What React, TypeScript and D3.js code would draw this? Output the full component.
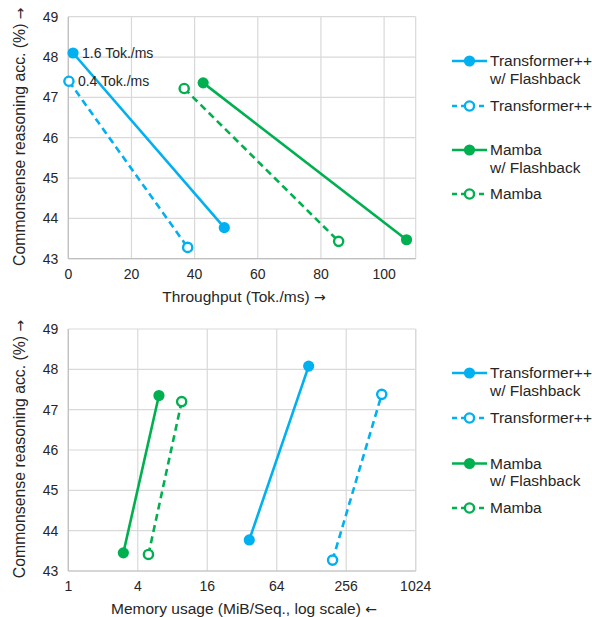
import React from "react";
import * as d3 from "d3";

const BLUE = "#00b0f0";
const GREEN = "#00b050";

const yTicks = [43, 44, 45, 46, 47, 48, 49];
const thrTicks = [0, 20, 40, 60, 80, 100];
const memTicks = [1, 4, 16, 64, 256, 1024];

// Throughput (Tok./ms) vs accuracy
const tfFbThroughput = [1.5, 49.4];
const tfFbAccTop = [48.1, 43.77];
const tfThroughput = [0.2, 37.8];
const tfAccTop = [47.4, 43.28];
const mbFbThroughput = [42.7, 107.1];
const mbFbAccTop = [47.36, 43.47];
const mbThroughput = [36.7, 85.6];
const mbAccTop = [47.22, 43.43];

// Memory (MiB/Seq.) vs accuracy
const tfFbMemory = [37, 121];
const tfFbAccBot = [43.77, 48.08];
const tfMemory = [195, 520];
const tfAccBot = [43.27, 47.38];
const mbFbMemory = [3.0, 6.1];
const mbFbAccBot = [43.45, 47.35];
const mbMemory = [4.95, 9.6];
const mbAccBot = [43.41, 47.2];

const annotations = ["1.6 Tok./ms", "0.4 Tok./ms"];

const legendItems = [
  { lines: ["Transformer++", "w/ Flashback"], color: BLUE, dashed: false },
  { lines: ["Transformer++"], color: BLUE, dashed: true },
  { lines: ["Mamba", "w/ Flashback"], color: GREEN, dashed: false },
  { lines: ["Mamba"], color: GREEN, dashed: true },
];

const FONT = "'Liberation Sans', Arial, sans-serif";
const ARROW_FONT = "'DejaVu Sans', sans-serif";
const TXT = "#262626";

type Series = { xs: number[]; ys: number[]; color: string; dashed: boolean };

function Marker({ x, y, color, open }: { x: number; y: number; color: string; open: boolean }) {
  return open ? (
    <circle cx={x} cy={y} r={4.6} fill="#fff" stroke={color} strokeWidth={2.4} />
  ) : (
    <circle cx={x} cy={y} r={5.6} fill={color} />
  );
}

function Panel({
  top,
  xScale,
  xTicks,
  xTitle,
  xArrow,
  series,
  annot,
  legendYs,
}: {
  top: number;
  xScale: any;
  xTicks: number[];
  xTitle: string;
  xArrow: string;
  series: Series[];
  annot?: boolean;
  legendYs: number[];
}) {
  const y = d3.scaleLinear().domain([43, 49]).range([top + 242, top]);
  const [x0, x1] = xScale.range();
  const line = d3.line<[number, number]>().x((d) => xScale(d[0])).y((d) => y(d[1]));
  return (
    <g fontFamily={FONT}>
      {yTicks.map((t) => (
        <line key={"gy" + t} x1={x0} x2={x1} y1={y(t)} y2={y(t)} stroke="#d9d9d9" strokeWidth={1.2} />
      ))}
      {xTicks.map((t) => (
        <line key={"gx" + t} x1={xScale(t)} x2={xScale(t)} y1={y(43)} y2={y(49)} stroke="#d9d9d9" strokeWidth={1.2} />
      ))}
      <line x1={x1} x2={x1} y1={y(43)} y2={y(49)} stroke="#d9d9d9" strokeWidth={1.2} />
      <line x1={x0} x2={x0} y1={y(43)} y2={y(49)} stroke="#bfbfbf" strokeWidth={1.2} />
      <line x1={x0} x2={x1} y1={y(43)} y2={y(43)} stroke="#bfbfbf" strokeWidth={1.2} />
      {yTicks.map((t) => (
        <text key={"ty" + t} x={x0 - 10} y={y(t)} dy="0.35em" textAnchor="end" fontSize={14} fill={TXT}>
          {t}
        </text>
      ))}
      {xTicks.map((t) => (
        <text key={"tx" + t} x={xScale(t)} y={y(43) + 20} textAnchor="middle" fontSize={14} fill={TXT}>
          {t}
        </text>
      ))}
      <text x={(x0 + x1) / 2 + 2} y={y(43) + 43} textAnchor="middle" fontSize={15.5} fill={TXT}>
        {xTitle}
        <tspan fontFamily={ARROW_FONT} fontSize={14}>{" " + xArrow}</tspan>
      </text>
      <text
        transform={`translate(24.5,${(y(43) + y(49)) / 2 - 1}) rotate(-90)`}
        textAnchor="middle"
        fontSize={15.8}
        fill={TXT}
      >
        {"Commonsense reasoning acc. (%) "}
        <tspan fontFamily={ARROW_FONT} fontSize={14}>→</tspan>
      </text>
      {series.map((s, i) => (
        <path
          key={"l" + i}
          d={line(s.xs.map((v, j) => [v, s.ys[j]] as [number, number])) || ""}
          fill="none"
          stroke={s.color}
          strokeWidth={2.6}
          strokeDasharray={s.dashed ? "7,4.5" : undefined}
        />
      ))}
      {series.map((s, i) =>
        s.xs.map((v, j) => (
          <Marker key={"m" + i + "-" + j} x={xScale(v)} y={y(s.ys[j])} color={s.color} open={s.dashed} />
        ))
      )}
      {annot && (
        <g fontSize={14} fill={TXT}>
          <text x={xScale(series[0].xs[0]) + 9} y={y(series[0].ys[0])} dy="0.35em">
            {annotations[0]}
          </text>
          <text x={xScale(series[1].xs[0]) + 9} y={y(series[1].ys[0])} dy="0.35em">
            {annotations[1]}
          </text>
        </g>
      )}
      {legendItems.map((it, i) => {
        const ly = legendYs[i];
        return (
          <g key={"lg" + i}>
            <line
              x1={452}
              x2={487}
              y1={ly}
              y2={ly}
              stroke={it.color}
              strokeWidth={2.6}
              strokeDasharray={it.dashed ? "5,4" : undefined}
            />
            <Marker x={469.5} y={ly} color={it.color} open={it.dashed} />
            {it.lines.map((ln, k) => (
              <text key={k} x={490} y={ly + k * 17.5} dy="0.35em" fontSize={15.5} fill={TXT}>
                {ln}
              </text>
            ))}
          </g>
        );
      })}
    </g>
  );
}

export default function App() {
  const xThr = d3.scaleLinear().domain([0, 110]).range([68.3, 415.7]);
  const xMem = d3.scaleLog().base(2).domain([1, 1024]).range([68.3, 415.7]);
  const topSeries: Series[] = [
    { xs: tfFbThroughput, ys: tfFbAccTop, color: BLUE, dashed: false },
    { xs: tfThroughput, ys: tfAccTop, color: BLUE, dashed: true },
    { xs: mbFbThroughput, ys: mbFbAccTop, color: GREEN, dashed: false },
    { xs: mbThroughput, ys: mbAccTop, color: GREEN, dashed: true },
  ];
  const botSeries: Series[] = [
    { xs: tfFbMemory, ys: tfFbAccBot, color: BLUE, dashed: false },
    { xs: tfMemory, ys: tfAccBot, color: BLUE, dashed: true },
    { xs: mbFbMemory, ys: mbFbAccBot, color: GREEN, dashed: false },
    { xs: mbMemory, ys: mbAccBot, color: GREEN, dashed: true },
  ];
  return (
    <svg
      width={592}
      height={617}
      style={{ position: "absolute", left: 0, top: 0, background: "#fff" }}
    >
      <rect width={592} height={617} fill="#fff" />
      <Panel
        top={16.7}
        xScale={xThr}
        xTicks={thrTicks}
        xTitle="Throughput (Tok./ms)"
        xArrow="→"
        series={topSeries}
        annot
        legendYs={[61, 106, 150, 194]}
      />
      <Panel
        top={329}
        xScale={xMem}
        xTicks={memTicks}
        xTitle="Memory usage (MiB/Seq., log scale)"
        xArrow="←"
        series={botSeries}
        legendYs={[373, 418, 463.5, 508]}
      />
    </svg>
  );
}
